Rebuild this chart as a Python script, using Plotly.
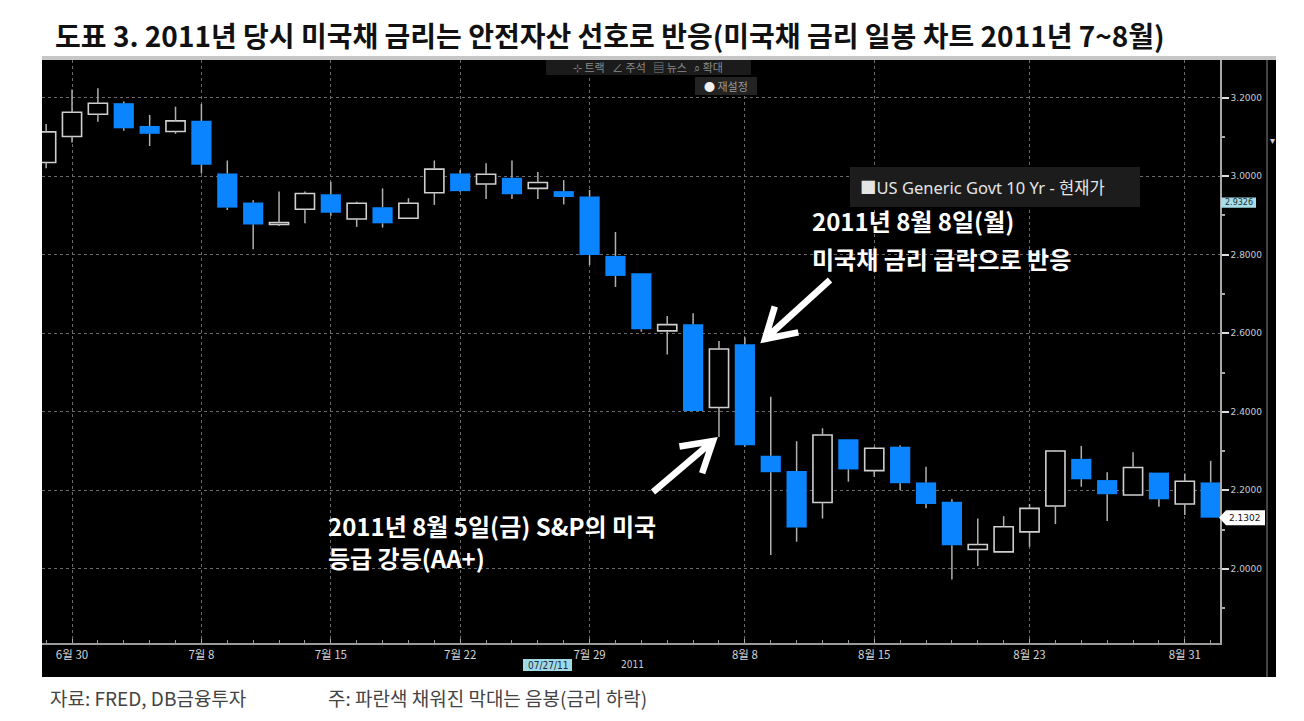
import math
import plotly.graph_objects as go

# ---------------- data ----------------
dates = ["6/29", "6/30", "7/1", "7/5", "7/6", "7/7", "7/8", "7/11", "7/12", "7/13",
         "7/14", "7/15", "7/18", "7/19", "7/20", "7/21", "7/22", "7/25", "7/26", "7/27",
         "7/28", "7/29", "8/1", "8/2", "8/3", "8/4", "8/5", "8/8", "8/9", "8/10",
         "8/11", "8/12", "8/15", "8/16", "8/17", "8/18", "8/19", "8/22", "8/23", "8/24",
         "8/25", "8/26", "8/29", "8/30", "8/31", "9/1"]

open_ = [3.035, 3.101, 3.158, 3.186, 3.128, 3.114, 3.141, 3.007, 2.933, 2.877,
         2.916, 2.954, 2.891, 2.921, 2.893, 2.958, 3.007, 2.980, 2.996, 2.969,
         2.962, 2.948, 2.797, 2.753, 2.606, 2.623, 2.411, 2.572, 2.288, 2.249,
         2.169, 2.330, 2.250, 2.311, 2.220, 2.171, 2.049, 2.043, 2.094, 2.160,
         2.280, 2.226, 2.188, 2.245, 2.165, 2.220]
high = [3.133, 3.221, 3.224, 3.190, 3.156, 3.177, 3.184, 3.040, 2.939, 2.961,
        2.961, 2.986, 2.935, 2.969, 2.944, 3.040, 3.016, 3.033, 3.040, 3.011,
        2.990, 2.965, 2.858, 2.753, 2.644, 2.651, 2.580, 2.590, 2.438, 2.325,
        2.358, 2.330, 2.311, 2.315, 2.260, 2.177, 2.128, 2.134, 2.165, 2.302,
        2.313, 2.246, 2.297, 2.245, 2.243, 2.275]
low = [3.020, 3.086, 3.139, 3.116, 3.077, 3.108, 3.007, 2.914, 2.814, 2.873,
       2.880, 2.899, 2.871, 2.869, 2.893, 2.927, 2.960, 2.942, 2.942, 2.942,
       2.928, 2.774, 2.718, 2.604, 2.546, 2.402, 2.336, 2.311, 2.035, 2.069,
       2.128, 2.222, 2.234, 2.201, 2.154, 1.973, 2.007, 2.043, 2.056, 2.114,
       2.209, 2.122, 2.188, 2.158, 2.137, 2.130]
close = [3.113, 3.163, 3.186, 3.122, 3.108, 3.141, 3.029, 2.920, 2.877, 2.882,
         2.956, 2.907, 2.931, 2.880, 2.931, 3.018, 2.962, 3.005, 2.954, 2.984,
         2.947, 2.799, 2.746, 2.610, 2.622, 2.402, 2.560, 2.315, 2.246, 2.105,
         2.341, 2.253, 2.307, 2.218, 2.165, 2.060, 2.062, 2.107, 2.154, 2.300,
         2.228, 2.190, 2.258, 2.177, 2.223, 2.1302]

tick_dates = ["6/30", "7/8", "7/15", "7/22", "7/29", "8/8", "8/15", "8/23", "8/31"]
tick_labels = ["6월 30", "7월 8", "7월 15", "7월 22", "7월 29", "8월 8", "8월 15", "8월 23", "8월 31"]
y_ticks = [2.0, 2.2, 2.4, 2.6, 2.8, 3.0, 3.2]
tag_value = 2.9326
last_value = close[-1]

title = "도표 3. 2011년 당시 미국채 금리는 안전자산 선호로 반응(미국채 금리 일봉 차트 2011년 7~8월)"
source = "자료: FRED, DB금융투자"
note = "주: 파란색 채워진 막대는 음봉(금리 하락)"
legend_text = "US Generic Govt 10 Yr - 현재가"
note_up = ["2011년 8월 8일(월)", "미국채 금리 급락으로 반응"]
note_dn = ["2011년 8월 5일(금) S&P의 미국", "등급 강등(AA+)"]

# ---------------- helpers ----------------
W, H = 1304, 721
def px(x):
    return x / W
def py(y):
    return 1 - y / H

BLUE = "#0b85ff"
KR = "Noto Sans CJK KR"

idx = list(range(len(dates)))

# wicks (drawn outside of bodies)
wx, wy = [], []
for i, o, h, l, c in zip(idx, open_, high, low, close):
    top, bot = max(o, c), min(o, c)
    wx += [i, i, None, i, i, None]
    wy += [h, top, None, bot, l, None]

dn = [i for i in idx if close[i] < open_[i]]
up = [i for i in idx if close[i] >= open_[i]]

fig = go.Figure()
fig.add_trace(go.Bar(
    x=dn, base=[close[i] for i in dn], y=[open_[i] - close[i] for i in dn],
    width=0.78, marker=dict(color=BLUE, line=dict(width=0)), hoverinfo="skip"))
fig.add_trace(go.Bar(
    x=up, base=[open_[i] for i in up], y=[max(close[i] - open_[i], 0.004) for i in up],
    width=0.74, marker=dict(color="black", line=dict(color="#cfcfcf", width=1.6)), hoverinfo="skip"))
fig.add_trace(go.Scatter(
    x=wx, y=wy, mode="lines", line=dict(color="#b0b0b0", width=1.5), hoverinfo="skip"))

tickvals = [dates.index(d) for d in tick_dates]

fig.update_layout(
    width=W, height=H, autosize=False,
    margin=dict(l=0, r=0, t=0, b=0),
    paper_bgcolor="white", plot_bgcolor="black",
    showlegend=False, barmode="overlay",
    xaxis=dict(
        domain=[px(42), px(1220)], range=[-0.16, 45.36], automargin=False,
        tickmode="array", tickvals=tickvals, ticktext=tick_labels,
        showgrid=True, gridcolor="#6a6a6a", griddash="dot", gridwidth=1,
        showline=True, linecolor="#9a9a9a", linewidth=1.5,
        ticks="inside", ticklen=4, tickcolor="#aaaaaa",
        minor=dict(dtick=1, tick0=0, ticks="inside", ticklen=3, tickcolor="#9a9a9a", showgrid=False),
        tickfont=dict(family=KR, size=11.5, color="#d4d4d4"),
        zeroline=False, fixedrange=True,
    ),
    yaxis=dict(
        domain=[py(643), py(60)], range=[1.811, 3.296], side="right", automargin=False,
        tickmode="array", tickvals=y_ticks, tickformat=".4f",
        showgrid=True, gridcolor="#6a6a6a", griddash="dot", gridwidth=1,
        showline=True, linecolor="#a8a8a8", linewidth=1.5,
        ticks="outside", ticklen=7, tickwidth=2, tickcolor="#dddddd",
        minor=dict(dtick=0.1, tick0=0, ticks="outside", ticklen=3, tickcolor="#aaaaaa", showgrid=False),
        tickfont=dict(family="DejaVu Sans", size=9, color="#c8ccd4"),
        zeroline=False, fixedrange=True,
    ),
)

shapes = []
# black panel
shapes.append(dict(type="rect", xref="paper", yref="paper", x0=px(42), x1=px(1276), y0=py(677), y1=py(57),
                   fillcolor="black", line=dict(width=0), layer="below"))
# grey top strip
shapes.append(dict(type="rect", xref="paper", yref="paper", x0=px(42), x1=px(1276), y0=py(60), y1=py(56),
                   fillcolor="#c6c6c6", line=dict(width=0), layer="above"))
# right border line
shapes.append(dict(type="line", xref="paper", yref="paper", x0=px(1267), x1=px(1267), y0=py(677), y1=py(60),
                   line=dict(color="#5a5a5a", width=1.5), layer="above"))
# legend box
shapes.append(dict(type="rect", xref="paper", yref="paper", x0=px(850), x1=px(1140), y0=py(207), y1=py(167),
                   fillcolor="#1c1c1c", line=dict(width=0), layer="above"))
# toolbar boxes
shapes.append(dict(type="rect", xref="paper", yref="paper", x0=px(546), x1=px(751), y0=py(75), y1=py(60),
                   fillcolor="#1b1b1b", line=dict(width=0), layer="above"))
shapes.append(dict(type="rect", xref="paper", yref="paper", x0=px(695), x1=px(757), y0=py(95), y1=py(77),
                   fillcolor="#232323", line=dict(width=0), layer="above"))
# value tags
shapes.append(dict(type="rect", xref="paper", yref="y", x0=px(1221), x1=px(1256),
                   y0=tag_value - 0.013, y1=tag_value + 0.013,
                   fillcolor="#a6dde6", line=dict(width=0), layer="above"))
ly0, ly1 = last_value - 0.019, last_value + 0.019
shapes.append(dict(type="path", xref="paper", yref="y",
                   path=f"M{px(1219)},{last_value} L{px(1226)},{ly1} L{px(1265)},{ly1} L{px(1265)},{ly0} L{px(1226)},{ly0} Z",
                   fillcolor="white", line=dict(width=0), layer="above"))
# date tag
shapes.append(dict(type="rect", xref="paper", yref="paper", x0=px(523), x1=px(572), y0=py(671), y1=py(659),
                   fillcolor="#9fd9e6", line=dict(width=0), layer="above"))

# chevron arrows
def arrow_path(tail, tip, length, ang_deg):
    dx, dy = tail[0] - tip[0], tail[1] - tip[1]
    n = math.hypot(dx, dy)
    ux, uy = dx / n, dy / n
    pts = []
    for s in (1, -1):
        a = math.radians(ang_deg * s)
        rx = ux * math.cos(a) - uy * math.sin(a)
        ry = ux * math.sin(a) + uy * math.cos(a)
        pts.append((tip[0] + rx * length, tip[1] + ry * length))
    p = lambda q: f"{px(q[0])},{py(q[1])}"
    return f"M{p(tail)} L{p(tip)} M{p(pts[0])} L{p(tip)} L{p(pts[1])}"

for tail, tip in [((830, 280), (765, 339)), ((653, 492), (713, 441))]:
    shapes.append(dict(type="path", xref="paper", yref="paper", path=arrow_path(tail, tip, 34, 31),
                       line=dict(color="white", width=6.5), layer="above"))

fig.update_layout(shapes=shapes)

ann = []
def text(x, y, t, size, color, family=KR, weight="normal", xanchor="left", yref="paper"):
    ann.append(dict(x=px(x), y=(py(y) if yref == "paper" else y), xref="paper", yref=yref, text=t, showarrow=False,
                    xanchor=xanchor, yanchor="middle",
                    font=dict(family=family, size=size, color=color, weight=weight)))

text(53, 35, title, 28, "#111111", weight="bold")
text(48, 697, source, 19, "#444444")
text(326, 697, note, 19, "#444444")
text(858, 187, "■" + legend_text, 16.5, "#e4e4e4", family="Noto Sans, " + KR)
text(648, 67, "⊹ 트랙   ∠ 주석   ▤ 뉴스   ⌕ 확대", 11, "#8a8a8a", xanchor="center")
text(726, 86, '<span style="color:#f0f0f0">●</span> 재설정', 11, "#9a9a9a", xanchor="center")
text(1272, 140, "▾", 10, "#cccccc", family="DejaVu Sans", xanchor="center")
text(1238.5, tag_value, f"{tag_value:.4f}", 8, "#1a3040", family="DejaVu Sans", xanchor="center", yref="y")
text(1245, last_value, f"{last_value:.4f}", 9, "#111111", family="DejaVu Sans", xanchor="center", yref="y")
text(547.5, 665, "07/27/11", 10, "#1a2a40", family="DejaVu Sans Condensed, DejaVu Sans", xanchor="center")
text(632, 664, "2011", 10, "#cccccc", family="DejaVu Sans Condensed, DejaVu Sans", xanchor="center")

text(810, 221, note_up[0], 24, "white", weight="bold")
text(810, 258, note_up[1], 24, "white", weight="bold")
text(326, 525, note_dn[0], 24, "white", weight="bold")
text(326, 557, note_dn[1], 24, "white", weight="bold")

fig.update_layout(annotations=ann)
fig.write_html("out.html", config={"displayModeBar": False},
               post_script="document.body.style.margin='0';document.body.style.overflow='hidden';")
